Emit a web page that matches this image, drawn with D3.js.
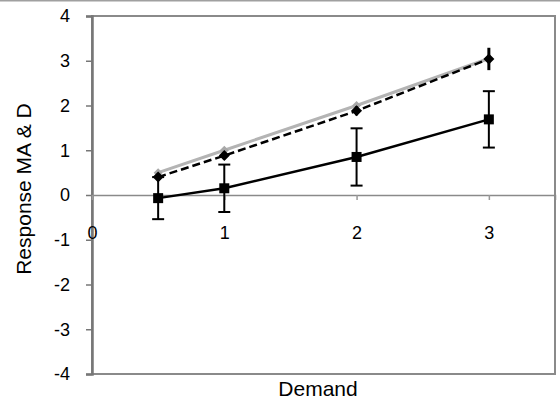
<!DOCTYPE html>
<html><head><meta charset="utf-8">
<script src="https://cdn.jsdelivr.net/npm/d3@7"></script>
<style>body{margin:0;background:#fff}svg{display:block;font-family:"Liberation Sans",Arial,sans-serif}</style>
</head><body><div id="chart"></div>
<script>
const demand = [0.5, 1, 2, 3];
const solidValues = [-0.07, 0.15, 0.85, 1.69];
const solidErrors = [0.47, 0.53, 0.64, 0.63];
const dashedValues = [0.40, 0.88, 1.88, 3.04];
const dashedErrors = [0.06, 0.08, 0.1, 0.25];
const grayValues = [0.5, 1.0, 2.0, 3.05];
const yTicks = [-4, -3, -2, -1, 0, 1, 2, 3, 4];
const xTicks = [0, 1, 2, 3];
const xTitle = "Demand";
const yTitle = "Response MA & D";

const W = 560, H = 401;
const m = {left: 92, top: 16, right: 5, bottom: 27};
const svg = d3.select("#chart").append("svg").attr("width", W).attr("height", H);
svg.append("rect").attr("width", W).attr("height", H).attr("fill", "#fff");
svg.append("line").attr("x1", 0).attr("x2", W).attr("y1", 0.5).attr("y2", 0.5).attr("stroke", "#a0a0a0").attr("stroke-width", 2);

const x = d3.scaleLinear().domain([0, 3.5]).range([m.left, W - m.right]);
const y = d3.scaleLinear().domain([-4, 4]).range([H - m.bottom, m.top]);
const fmt = d => String(d);

// plot frame
svg.append("rect").attr("x", x(0)).attr("y", y(4)).attr("width", x(3.5) - x(0)).attr("height", y(-4) - y(4))
  .attr("fill", "none").attr("stroke", "#8a8a8a").attr("stroke-width", 2);

// y axis
const ya = svg.append("g").attr("transform", `translate(${x(0)},0)`)
  .call(d3.axisLeft(y).tickValues(yTicks).tickSize(6).tickPadding(16).tickFormat(fmt));
ya.select(".domain").attr("stroke", "#777").attr("stroke-width", 2.5);
ya.selectAll(".tick line").attr("stroke", "#777").attr("stroke-width", 1.5);
ya.selectAll(".tick text").attr("font-size", 18).attr("fill", "#000").attr("font-family", "Liberation Sans, Arial, sans-serif");

// x axis at y=0
const xa = svg.append("g").attr("transform", `translate(0,${y(0)})`)
  .call(d3.axisBottom(x).tickValues(xTicks).tickSize(5).tickPadding(26).tickFormat(fmt));
xa.select(".domain").attr("stroke", "#8a8a8a").attr("stroke-width", 1.5);
xa.selectAll(".tick line").attr("stroke", "#999").attr("stroke-width", 1.5);
xa.selectAll(".tick text").attr("font-size", 18).attr("fill", "#000").attr("font-family", "Liberation Sans, Arial, sans-serif");

const line = d3.line().x((d, i) => x(demand[i])).y(d => y(d));
const diamond = s => `M0,${-s}L${s},0L0,${s}L${-s},0Z`;

// gray series
svg.append("path").datum(grayValues).attr("d", line).attr("fill", "none").attr("stroke", "#b4b4b4").attr("stroke-width", 3);
svg.selectAll(".gm").data(grayValues).enter().append("path")
  .attr("d", diamond(4.5)).attr("transform", (d, i) => `translate(${x(demand[i])},${y(d)})`).attr("fill", "#a8a8a8");

// dashed series
svg.selectAll(".de").data(dashedValues).enter().append("line")
  .attr("x1", (d, i) => x(demand[i])).attr("x2", (d, i) => x(demand[i]))
  .attr("y1", (d, i) => y(d + dashedErrors[i])).attr("y2", (d, i) => y(d - dashedErrors[i]))
  .attr("stroke", "#000").attr("stroke-width", 3);
svg.append("path").datum(dashedValues).attr("d", line).attr("fill", "none").attr("stroke", "#000")
  .attr("stroke-width", 2.5).attr("stroke-dasharray", "8,4");
svg.selectAll(".dm").data(dashedValues).enter().append("path")
  .attr("d", diamond(5.5)).attr("transform", (d, i) => `translate(${x(demand[i])},${y(d)})`).attr("fill", "#000");

// solid series with error bars
const eb = svg.selectAll(".se").data(solidValues).enter().append("g");
eb.append("line").attr("x1", (d, i) => x(demand[i])).attr("x2", (d, i) => x(demand[i]))
  .attr("y1", (d, i) => y(d + solidErrors[i])).attr("y2", (d, i) => y(d - solidErrors[i]))
  .attr("stroke", "#000").attr("stroke-width", 2);
[1, -1].forEach(s => {
  eb.append("line").attr("x1", (d, i) => x(demand[i]) - 6).attr("x2", (d, i) => x(demand[i]) + 6)
    .attr("y1", (d, i) => y(d + s * solidErrors[i])).attr("y2", (d, i) => y(d + s * solidErrors[i]))
    .attr("stroke", "#000").attr("stroke-width", 2);
});
svg.append("path").datum(solidValues).attr("d", line).attr("fill", "none").attr("stroke", "#000").attr("stroke-width", 2.5);
svg.selectAll(".sm").data(solidValues).enter().append("rect")
  .attr("x", (d, i) => x(demand[i]) - 5).attr("y", d => y(d) - 5).attr("width", 10).attr("height", 10).attr("fill", "#000");

// titles
svg.append("text").attr("x", 318).attr("y", 396).attr("text-anchor", "middle").attr("font-size", 21).attr("fill", "#000").text(xTitle);
svg.append("text").attr("transform", "translate(31,189) rotate(-90)").attr("text-anchor", "middle").attr("font-size", 21).attr("fill", "#000").text(yTitle);
</script></body></html>
